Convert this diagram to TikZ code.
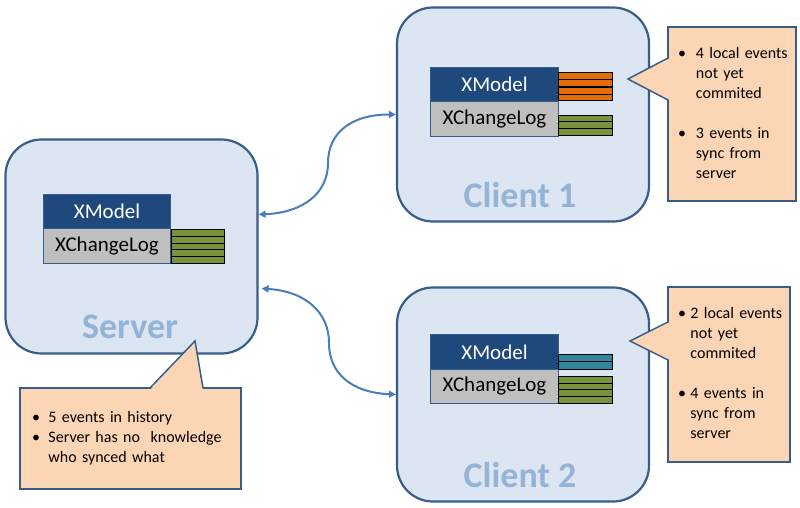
\documentclass[tikz,border=0pt]{standalone}
\usepackage{fontspec}
\setmainfont{Carlito}
\usetikzlibrary{positioning,arrows.meta}

\definecolor{boxfill}{HTML}{DCE6F2}
\definecolor{boxline}{HTML}{385D8A}
\definecolor{sitetext}{HTML}{95B3D7}
\definecolor{modelfill}{HTML}{1F497D}
\definecolor{logfill}{HTML}{BFBFBF}
\definecolor{evgreen}{HTML}{77933C}
\definecolor{evorange}{HTML}{E46C0A}
\definecolor{evteal}{HTML}{31859C}
\definecolor{notefill}{HTML}{FCD5B5}
\definecolor{linkblue}{HTML}{4A7EBB}

\begin{document}
\begin{tikzpicture}[x=1pt,y=-1pt,
  site/.style={draw=boxline,line width=2.2pt,fill=boxfill,rounded corners=36pt,
    minimum width=252pt,minimum height=214pt},
  sitename/.style={font=\fontsize{36}{40}\selectfont\bfseries,text=sitetext},
  model/.style={draw=boxline,line width=0.6pt,fill=modelfill,text=white,
    minimum width=127.5pt,minimum height=34.5pt,inner sep=0pt,outer sep=0pt,
    font=\fontsize{21}{24}\selectfont},
  log/.style={model,fill=logfill,text=black},
  ev/.style={draw=black,line width=0.8pt},
  note/.style={draw=boxline,line width=1.5pt,fill=notefill,inner sep=0pt,
    align=left,font=\fontsize{16}{20}\selectfont},
  link/.style={draw=linkblue,line width=2pt,
    {Triangle[length=7pt,width=7pt]}-{Triangle[length=7pt,width=7pt]}}]
\useasboundingbox (0,0) rectangle (800,507);

% sites
\node[site] (server) at (131.5,246.5) {};
\node[site] (client1) at (523,114.5) {};
\node[site] (client2) at (523,394.5) {};
\node[sitename] at (130,327) {Server};
\node[sitename] at (520,195) {Client 1};
\node[sitename] at (520,475) {Client 2};

% server model + log
\node[model] (srvmodel) at (107,211.5) {XModel};
\node[log, below=0pt of srvmodel] (srvlog) {XChangeLog};
\draw[ev, fill=evgreen] (171,229.5) rectangle (224,236.2);
\draw[ev, fill=evgreen] (171,236.2) rectangle (224,242.9);
\draw[ev, fill=evgreen] (171,242.9) rectangle (224,249.6);
\draw[ev, fill=evgreen] (171,249.6) rectangle (224,256.3);
\draw[ev, fill=evgreen] (171,256.3) rectangle (224,263.0);

% client 1 model + log
\node[model] (c1model) at (494.5,84.5) {XModel};
\node[log, below=0pt of c1model] (c1log) {XChangeLog};
\draw[ev, fill=evorange] (558,72.5) rectangle (612,79.3);
\draw[ev, fill=evorange] (558,79.3) rectangle (612,86.0);
\draw[ev, fill=evorange] (558,87.2) rectangle (612,94.0);
\draw[ev, fill=evorange] (558,94.0) rectangle (612,100.8);
\draw[ev, fill=evgreen] (558,115.0) rectangle (612,121.8);
\draw[ev, fill=evgreen] (558,121.8) rectangle (612,128.6);
\draw[ev, fill=evgreen] (558,128.6) rectangle (612,135.4);

% client 2 model + log
\node[model] (c2model) at (494.5,352) {XModel};
\node[log, below=0pt of c2model] (c2log) {XChangeLog};
\draw[ev, fill=evteal] (558,354.0) rectangle (612,361.5);
\draw[ev, fill=evteal] (558,361.5) rectangle (612,369.0);
\draw[ev, fill=evgreen] (558,376.5) rectangle (612,383.1);
\draw[ev, fill=evgreen] (558,383.1) rectangle (612,389.7);
\draw[ev, fill=evgreen] (558,389.7) rectangle (612,396.3);
\draw[ev, fill=evgreen] (558,396.3) rectangle (612,403.0);

% sync links
\draw[link] ([yshift=32pt]server.east) .. controls +(45,-2) and +(0,30) .. (328,163)
  .. controls +(0,-30) and +(-45,0) .. (client1.west);
\draw[link] ([yshift=-42pt,xshift=3pt]server.east) .. controls +(45,3) and +(0,-30) .. (329,343)
  .. controls +(0,30) and +(-45,-2) .. (client2.west);

% notes
\node[note, minimum width=221pt, minimum height=101pt, text width=197pt] (srvnote) at (130.5,438.5)
  {\noindent\begin{tabular}{@{}l@{\hspace{8.5pt}}l@{}}
   \textbullet & 5 events in history\\
   \textbullet & Server has no~ knowledge\\
   & who synced what
   \end{tabular}};
\fill[notefill] (150,390) -- (195,341) -- (203,390) -- cycle;
\draw[boxline, line width=1.5pt] (150,388) -- (195,341) -- (203,388);

\node[note, minimum width=128pt, minimum height=174pt, text width=108pt] (c1note) at (732,114)
  {\noindent\begin{tabular}{@{}l@{\hspace{10pt}}l@{}}
   \textbullet & 4 local events\\
   & not yet\\
   & commited\\
   & \\
   \textbullet & 3 events in\\
   & sync from\\
   & server
   \end{tabular}};
\fill[notefill] (670,58) -- (628,79) -- (670,100) -- cycle;
\draw[boxline, line width=1.5pt] (668,58) -- (628,79) -- (668,100);

\node[note, minimum width=122pt, minimum height=175pt, text width=102pt] (c2note) at (729,374.5)
  {\noindent\begin{tabular}{@{}l@{\hspace{4.5pt}}l@{}}
   \textbullet & 2 local events\\
   & not yet\\
   & commited\\
   & \\
   \textbullet & 4 events in\\
   & sync from\\
   & server
   \end{tabular}};
\fill[notefill] (670,322) -- (630,341) -- (670,360) -- cycle;
\draw[boxline, line width=1.5pt] (668,322) -- (630,341) -- (668,360);
\end{tikzpicture}
\end{document}
